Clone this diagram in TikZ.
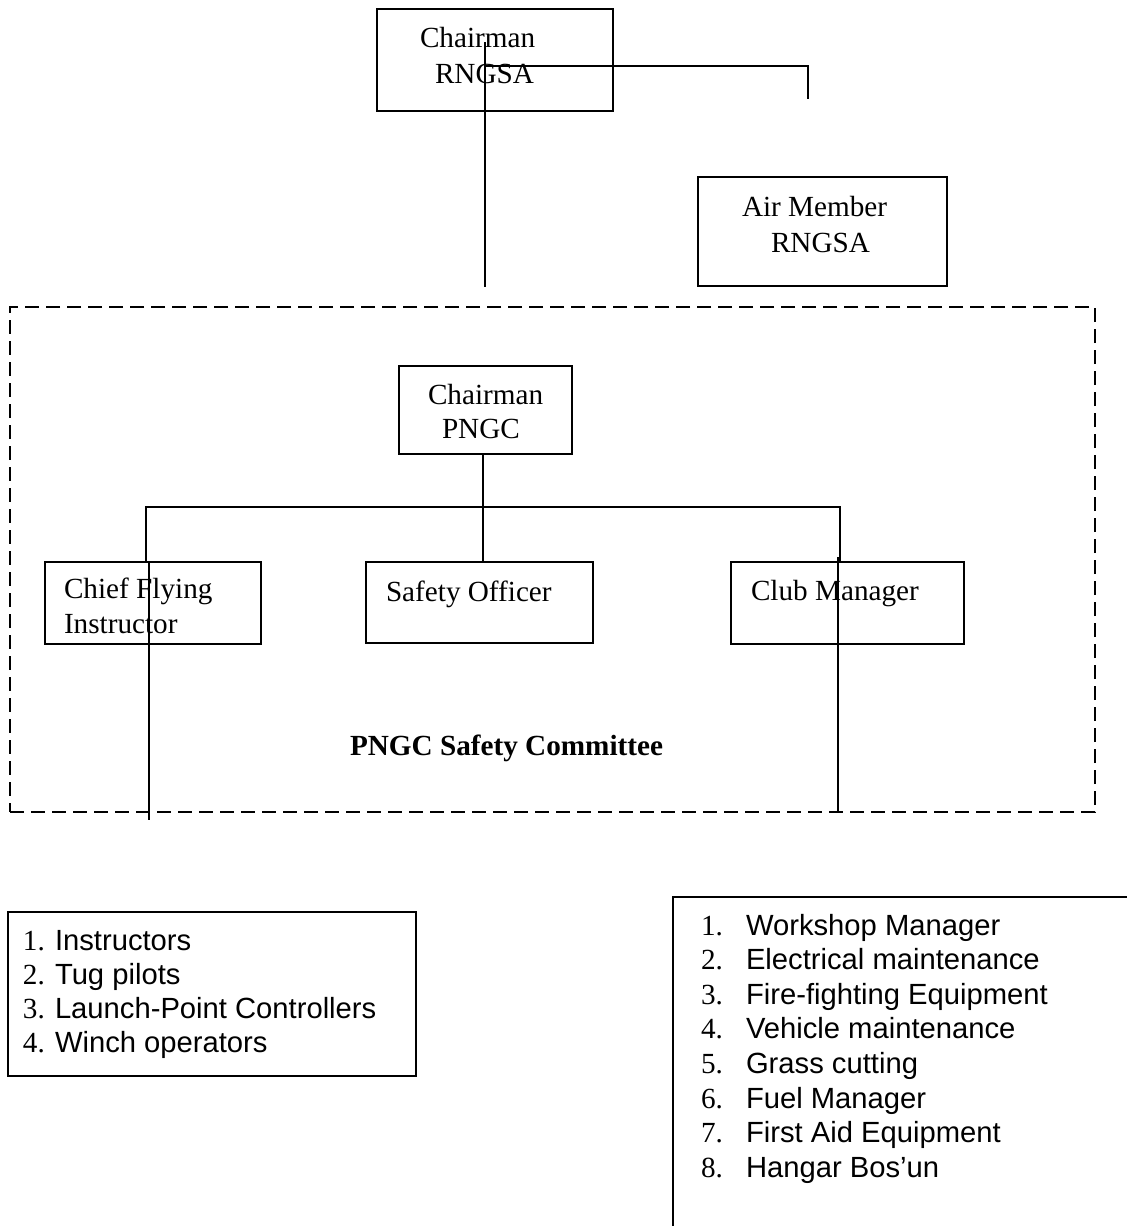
\documentclass[tikz,border=0pt]{standalone}
\usepackage{fontspec}
\setmainfont{Liberation Serif}
\newfontfamily\arialf{Liberation Sans}
\begin{document}
\begin{tikzpicture}[x=0.5pt,y=-0.5pt,
  every node/.style={inner sep=0pt, outer sep=0pt, font=\fontsize{14.6pt}{17pt}\selectfont},
  box/.style 2 args={draw, line width=1pt, rectangle, minimum width=#1*0.5pt, minimum height=#2*0.5pt},
  txt/.style={anchor=base west},
  itemtxt/.style={anchor=base west, font=\fontsize{14.6pt}{17pt}\selectfont\arialf},
  conn/.style={line width=1pt},
]
\useasboundingbox (0,0) rectangle (1126,1226);

% boxes
\node[box={236}{102}] (cr) at (495,60) {};
\node[box={249}{109}] (am) at (822.5,231.5) {};
\node[box={1085}{505}, dashed, dash pattern=on 7pt off 3.5pt] (comm) at (552.5,559.5) {};
\node[box={173}{88}] (cp) at (485.5,410) {};
\node[box={216}{82}] (cfi) at (153,603) {};
\node[box={227}{81}] (so) at (479.5,602.5) {};
\node[box={233}{82}] (cm) at (847.5,603) {};
\node[box={408}{164}] (ll) at (211.5,994) {};
\node[box={473}{349}] (rl) at (909.5,1071.5) {};

% box texts
\node[txt] (cr1) at (420,47) {Chairman};
\node[txt] (cr2) at (435,83) {RNGSA};
\node[txt] (am1) at (742,216) {Air Member};
\node[txt] (am2) at (771,252) {RNGSA};
\node[txt] (cp1) at (428,404) {Chairman};
\node[txt] (cp2) at (442,438) {PNGC};
\node[txt] (cfi1) at (64,598) {Chief Flying};
\node[txt] (cfi2) at (64,633) {Instructor};
\node[txt] (so1) at (386,601) {Safety Officer};
\node[txt] (cm1) at (751,600) {Club Manager};
\node[txt, font=\fontsize{14.6pt}{17pt}\selectfont\bfseries] (commt) at (350,755) {PNGC Safety Committee};

% left list
\foreach \n/\t [count=\i from 0] in {1/Instructors,2/Tug pilots,3/Launch-Point Controllers,4/Winch operators}{
  \node[txt] (ln\n) at (23,950+34.2*\i) {\n.};
  \node[itemtxt] (lt\n) at (55,950+34.2*\i) {\t};
}
% right list
\foreach \n/\t [count=\i from 0] in {1/Workshop Manager,2/Electrical maintenance,3/Fire-fighting Equipment,4/Vehicle maintenance,5/Grass cutting,6/Fuel Manager,7/First Aid Equipment,8/Hangar Bos’un}{
  \node[txt] (rn\n) at (701,935+34.6*\i) {\n.};
  \node[itemtxt] (rt\n) at (746,935+34.6*\i) {\t};
}

% connectors
\coordinate (t1) at (485,42);
\coordinate (t2) at (485,287);
\coordinate (h1) at (485,66);
\coordinate (t3) at (808,99);
\draw[conn] (t1) -- (t2);
\draw[conn] (h1) -| (t3);

\coordinate (vx) at (483,0);
\coordinate (lx) at (146,0);
\coordinate (rx) at (840,507);
\draw[conn] (cp.south -| vx) -- (so.north -| vx);
\draw[conn] (cfi.north -| lx) |- (rx) -- (cm.north -| rx);

\coordinate (lend) at (149,820);
\coordinate (rend) at (838,812);
\draw[conn] (cfi.north -| lend) -- (lend);
\draw[conn] (cm.north -| rend) ++(0,-5) -- (rend);
\end{tikzpicture}
\end{document}
